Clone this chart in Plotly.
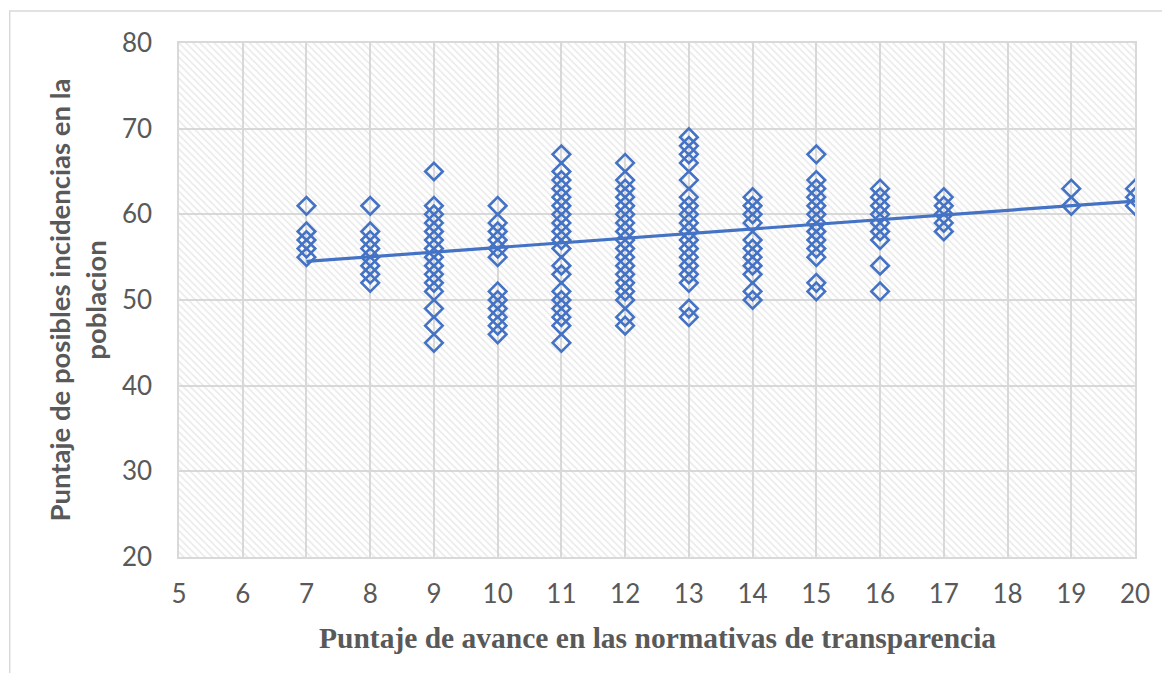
import plotly.graph_objects as go

# x = puntaje de avance, y = puntajes de incidencias leídos por columna
columnas = [7, 8, 9, 10, 11, 12, 13, 14, 15, 16, 17, 19, 20]
puntajes = [
    [61, 58, 57, 56, 55],
    [61, 58, 57, 56, 55, 54, 53, 52],
    [65, 61, 60, 59, 58, 57, 56, 55, 54, 53, 52, 51, 49, 47, 45],
    [61, 59, 58, 57, 56, 55, 51, 50, 49, 48, 47, 46],
    [67, 65, 64, 63, 62, 61, 60, 59, 58, 57, 56, 54, 53, 51, 50, 49, 48, 47, 45],
    [66, 64, 63, 62, 61, 60, 59, 58, 57, 56, 55, 54, 53, 52, 51, 50, 48, 47],
    [69, 68, 67, 66, 64, 62, 61, 60, 59, 58, 57, 56, 55, 54, 53, 52, 49, 48],
    [62, 61, 60, 59, 57, 56, 55, 54, 53, 51, 50],
    [67, 64, 63, 62, 61, 60, 59, 58, 57, 56, 55, 52, 51],
    [63, 62, 61, 60, 59, 58, 57, 54, 51],
    [62, 61, 60, 59, 58],
    [63, 61],
    [63, 62, 61],
]

# linea de tendencia (lineal)
tendencia_x = [7, 20]
tendencia_y = [54.5, 61.55]

x_range = [5, 20]
y_range = [20, 80]

BLUE = "#4472C4"
GRID = "#d9d9d9"
TEXT = "#595959"

xs = []
ys = []
for c, vals in zip(columnas, puntajes):
    xs += [c] * len(vals)
    ys += vals

fig = go.Figure()

# fondo rayado del area de trazado
fig.add_trace(
    go.Scatter(
        x=[x_range[0], x_range[1], x_range[1], x_range[0], x_range[0]],
        y=[y_range[0], y_range[0], y_range[1], y_range[1], y_range[0]],
        mode="lines",
        fill="toself",
        fillcolor="rgba(0,0,0,0)",
        fillpattern=dict(shape="\\", fgcolor="#d3d3d3", size=5, solidity=0.3),
        line=dict(width=0),
        hoverinfo="skip",
        showlegend=False,
    )
)

fig.add_trace(
    go.Scatter(
        x=xs,
        y=ys,
        mode="markers",
        marker=dict(symbol="diamond-open", size=13.5, color=BLUE, line=dict(width=2.6, color=BLUE)),
        showlegend=False,
    )
)

fig.add_trace(
    go.Scatter(
        x=tendencia_x,
        y=tendencia_y,
        mode="lines",
        line=dict(color=BLUE, width=3.2),
        showlegend=False,
    )
)

fig.update_xaxes(
    range=x_range,
    dtick=1,
    showgrid=True,
    gridcolor=GRID,
    gridwidth=1.5,
    showline=True,
    mirror=True,
    linecolor=GRID,
    linewidth=1.5,
    zeroline=False,
    ticks="",
    ticklabelstandoff=13,
    tickfont=dict(family="Lato", size=26, color=TEXT),
)
fig.update_yaxes(
    range=y_range,
    dtick=10,
    showgrid=True,
    gridcolor=GRID,
    gridwidth=1.5,
    showline=True,
    mirror=True,
    linecolor=GRID,
    linewidth=1.5,
    zeroline=False,
    ticks="",
    ticklabelstandoff=20,
    tickfont=dict(family="Lato", size=26, color=TEXT),
)

fig.add_annotation(
    text="<b>Puntaje de posibles incidencias en la<br>poblacion</b>",
    xref="paper", yref="paper",
    x=(77 - 179) / 960, y=0.5,
    xanchor="center", yanchor="middle",
    textangle=-90,
    showarrow=False,
    font=dict(family="Lato", size=27.5, color=TEXT),
)
fig.add_annotation(
    text="<b>Puntaje de avance en las normativas de transparencia</b>",
    xref="paper", yref="paper",
    x=0.5, y=(557 - 638) / 514,
    xanchor="center", yanchor="middle",
    showarrow=False,
    font=dict(family="Liberation Serif", size=29.5, color=TEXT),
)

# borde exterior del grafico
fig.add_shape(
    type="rect",
    xref="paper", yref="paper",
    x0=(9 - 179) / 960, x1=(1200 - 179) / 960,
    y0=(557 - 720) / 514, y1=(557 - 11) / 514,
    line=dict(color=GRID, width=1.5),
    fillcolor="rgba(0,0,0,0)",
    layer="below",
)

# la pagina tiene un margen de 8 px: el area de trazado queda en x 179-1139, y 43-557
fig.update_layout(
    width=1154,
    height=665,
    margin=dict(l=171, r=23, t=35, b=116),
    paper_bgcolor="white",
    plot_bgcolor="white",
)

fig.write_html("out.html")
